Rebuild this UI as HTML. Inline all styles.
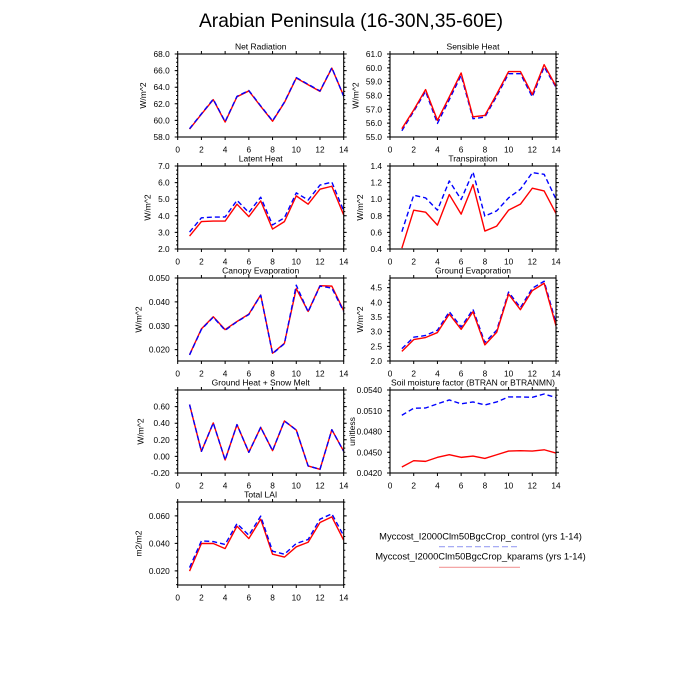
<!DOCTYPE html>
<html><head><meta charset="utf-8"><style>
html,body{margin:0;padding:0;background:#fff;}
svg{display:block;font-family:"Liberation Sans",Arial,sans-serif;}
.r{fill:none;stroke:#ff0000;stroke-width:1.4;vector-effect:non-scaling-stroke;stroke-linejoin:round;}
.b{fill:none;stroke:#0000ff;stroke-width:1.4;stroke-dasharray:5 3;vector-effect:non-scaling-stroke;stroke-linejoin:round;}
.fr{fill:none;stroke:#000;stroke-width:1.1;}
.M{fill:none;stroke:#000;stroke-width:3;}
.m{fill:none;stroke:#000;stroke-width:1.6;}
.xM{stroke-dasharray:1 22.714;}
.xm{stroke-dasharray:0 100;}
.tl{font-size:8.3px;fill:#000;}
.yl{text-anchor:end;}
.xl{text-anchor:middle;}
.pt{font-size:8.5px;text-anchor:middle;fill:#000;}
.al{font-size:8.5px;text-anchor:middle;fill:#000;}
</style></head><body>
<svg width="700" height="700" viewBox="0 0 700 700" xmlns="http://www.w3.org/2000/svg">
<rect width="700" height="700" fill="#fff"/>
<text x="351" y="27" font-size="19.2" text-anchor="middle" fill="#000">Arabian Peninsula (16-30N,35-60E)</text>

<!-- ===== Panel A: Net Radiation ===== -->
<g transform="translate(177.7,137) scale(11.857,-8.3) translate(0,-58)">
<polyline class="r" points="1,58.95 2,60.75 3,62.5 4,59.8 5,62.85 6,63.55 7,61.7 8,59.9 9,62.15 10,65.1 11,64.3 12,63.5 13,66.3 14,62.95"/>
<polyline class="b" points="1,59.0 2,60.8 3,62.55 4,59.85 5,62.9 6,63.6 7,61.75 8,59.95 9,62.2 10,65.15 11,64.35 12,63.55 13,66.35 14,62.9"/>
</g>
<rect class="fr" x="177.7" y="54" width="166" height="83"/>
<path class="M xM" d="M177.2 138.5H344.2"/><path class="M xM" d="M177.2 52.5H344.2"/>
<path class="M" style="stroke-dasharray:1 15.6" d="M176.2 137.5V53.5"/><path class="M" style="stroke-dasharray:1 15.6" d="M345.2 137.5V53.5"/>
<path class="m" style="stroke-dasharray:1 3.15" d="M176.9 137.5V53.5"/><path class="m" style="stroke-dasharray:1 3.15" d="M344.5 137.5V53.5"/>
<g class="tl yl"><text x="169.7" y="140">58.0</text><text x="169.7" y="123.4">60.0</text><text x="169.7" y="106.8">62.0</text><text x="169.7" y="90.2">64.0</text><text x="169.7" y="73.6">66.0</text><text x="169.7" y="57">68.0</text></g>
<g class="tl xl"><text x="177.7" y="152.5">0</text><text x="201.4" y="152.5">2</text><text x="225.1" y="152.5">4</text><text x="248.8" y="152.5">6</text><text x="272.6" y="152.5">8</text><text x="296.3" y="152.5">10</text><text x="320" y="152.5">12</text><text x="343.7" y="152.5">14</text></g>
<text class="pt" x="260.7" y="49.5">Net Radiation</text>
<text class="al" transform="translate(146,95.5) rotate(-90)">W/m^2</text>

<!-- ===== Panel B: Sensible Heat ===== -->
<g transform="translate(390,137) scale(11.857,-13.8333) translate(0,-55)">
<polyline class="b" points="1,55.45 2,56.85 3,58.3 4,55.98 5,57.7 6,59.46 7,56.32 8,56.44 9,57.95 10,59.58 11,59.58 12,57.9 13,60.06 14,58.6"/>
<polyline class="r" points="1,55.6 2,56.95 3,58.43 4,56.2 5,57.9 6,59.63 7,56.46 8,56.56 9,58.1 10,59.73 11,59.73 12,58.07 13,60.23 14,58.67"/>
</g>
<rect class="fr" x="390" y="54" width="166" height="83"/>
<path class="M xM" d="M389.5 138.5H556.5"/><path class="M xM" d="M389.5 52.5H556.5"/>
<path class="M" style="stroke-dasharray:1 12.8333" d="M388.5 137.5V53.5"/><path class="M" style="stroke-dasharray:1 12.8333" d="M557.5 137.5V53.5"/>
<path class="m" style="stroke-dasharray:1 2.4583" d="M389.2 137.5V53.5"/><path class="m" style="stroke-dasharray:1 2.4583" d="M556.8 137.5V53.5"/>
<g class="tl yl"><text x="382" y="140">55.0</text><text x="382" y="126.17">56.0</text><text x="382" y="112.33">57.0</text><text x="382" y="98.5">58.0</text><text x="382" y="84.67">59.0</text><text x="382" y="70.83">60.0</text><text x="382" y="57">61.0</text></g>
<g class="tl xl"><text x="390" y="152.5">0</text><text x="413.7" y="152.5">2</text><text x="437.4" y="152.5">4</text><text x="461.1" y="152.5">6</text><text x="484.9" y="152.5">8</text><text x="508.6" y="152.5">10</text><text x="532.3" y="152.5">12</text><text x="556" y="152.5">14</text></g>
<text class="pt" x="473" y="49.5">Sensible Heat</text>
<text class="al" transform="translate(358.3,95.5) rotate(-90)">W/m^2</text>

<!-- ===== Panel C: Latent Heat ===== -->
<g transform="translate(177.7,249) scale(11.857,-16.6) translate(0,-2)">
<polyline class="r" points="1,2.78 2,3.65 3,3.68 4,3.68 5,4.7 6,3.95 7,4.9 8,3.2 9,3.65 10,5.2 11,4.7 12,5.6 13,5.78 14,4.05"/>
<polyline class="b" points="1,3.02 2,3.88 3,3.92 4,3.93 5,4.93 6,4.2 7,5.12 8,3.45 9,3.88 10,5.38 11,4.95 12,5.85 13,6.03 14,4.3"/>
</g>
<rect class="fr" x="177.7" y="166" width="166" height="83"/>
<path class="M xM" d="M177.2 250.5H344.2"/><path class="M xM" d="M177.2 164.5H344.2"/>
<path class="M" style="stroke-dasharray:1 15.6" d="M176.2 249.5V165.5"/><path class="M" style="stroke-dasharray:1 15.6" d="M345.2 249.5V165.5"/>
<path class="m" style="stroke-dasharray:1 3.15" d="M176.9 249.5V165.5"/><path class="m" style="stroke-dasharray:1 3.15" d="M344.5 249.5V165.5"/>
<g class="tl yl"><text x="169.7" y="252">2.0</text><text x="169.7" y="235.4">3.0</text><text x="169.7" y="218.8">4.0</text><text x="169.7" y="202.2">5.0</text><text x="169.7" y="185.6">6.0</text><text x="169.7" y="169">7.0</text></g>
<g class="tl xl"><text x="177.7" y="264.5">0</text><text x="201.4" y="264.5">2</text><text x="225.1" y="264.5">4</text><text x="248.8" y="264.5">6</text><text x="272.6" y="264.5">8</text><text x="296.3" y="264.5">10</text><text x="320" y="264.5">12</text><text x="343.7" y="264.5">14</text></g>
<text class="pt" x="260.7" y="161.5">Latent Heat</text>
<text class="al" transform="translate(150.7,207.5) rotate(-90)">W/m^2</text>

<!-- ===== Panel D: Transpiration ===== -->
<g transform="translate(390,249) scale(11.857,-83) translate(0,-0.4)">
<polyline class="r" points="1,0.41 2,0.868 3,0.844 4,0.688 5,1.056 6,0.82 7,1.176 8,0.616 9,0.676 10,0.868 11,0.94 12,1.132 13,1.1 14,0.828"/>
<polyline class="b" points="1,0.608 2,1.048 3,1.016 4,0.868 5,1.22 6,0.996 7,1.328 8,0.796 9,0.86 10,1.016 11,1.12 12,1.32 13,1.3 14,1.0"/>
</g>
<rect class="fr" x="390" y="166" width="166" height="83"/>
<path class="M xM" d="M389.5 250.5H556.5"/><path class="M xM" d="M389.5 164.5H556.5"/>
<path class="M" style="stroke-dasharray:1 15.6" d="M388.5 249.5V165.5"/><path class="M" style="stroke-dasharray:1 15.6" d="M557.5 249.5V165.5"/>
<path class="m" style="stroke-dasharray:1 3.15" d="M389.2 249.5V165.5"/><path class="m" style="stroke-dasharray:1 3.15" d="M556.8 249.5V165.5"/>
<g class="tl yl"><text x="382" y="252">0.4</text><text x="382" y="235.4">0.6</text><text x="382" y="218.8">0.8</text><text x="382" y="202.2">1.0</text><text x="382" y="185.6">1.2</text><text x="382" y="169">1.4</text></g>
<g class="tl xl"><text x="390" y="264.5">0</text><text x="413.7" y="264.5">2</text><text x="437.4" y="264.5">4</text><text x="461.1" y="264.5">6</text><text x="484.9" y="264.5">8</text><text x="508.6" y="264.5">10</text><text x="532.3" y="264.5">12</text><text x="556" y="264.5">14</text></g>
<text class="pt" x="473" y="161.5">Transpiration</text>
<text class="al" transform="translate(363,207.5) rotate(-90)">W/m^2</text>

<!-- ===== Panel E: Canopy Evaporation ===== -->
<g transform="translate(177.7,361) scale(11.857,-2389.2) translate(0,-0.01526)">
<polyline class="r" points="1,0.0179 2,0.0287 3,0.0338 4,0.0284 5,0.0318 6,0.0349 7,0.0429 8,0.0185 9,0.0227 10,0.0456 11,0.0360 12,0.0468 13,0.0466 14,0.0363"/>
<polyline class="b" points="1,0.0178 2,0.0285 3,0.0336 4,0.0281 5,0.0317 6,0.0347 7,0.0428 8,0.0183 9,0.0225 10,0.0470 11,0.0358 12,0.0466 13,0.0458 14,0.0360"/>
</g>
<rect class="fr" x="177.7" y="278" width="166" height="83"/>
<path class="M xM" d="M177.2 362.5H344.2"/><path class="M xM" d="M177.2 276.5H344.2"/>
<path class="M" style="stroke-dasharray:1 22.89" d="M176.2 350.18V277.5"/><path class="M" style="stroke-dasharray:1 22.89" d="M345.2 350.18V277.5"/>
<path class="m" style="stroke-dasharray:1 4.9725" d="M176.9 356.15V277.5"/><path class="m" style="stroke-dasharray:1 4.9725" d="M344.5 356.15V277.5"/>
<g class="tl yl"><text x="169.7" y="352.68">0.020</text><text x="169.7" y="328.79">0.030</text><text x="169.7" y="304.9">0.040</text><text x="169.7" y="281">0.050</text></g>
<g class="tl xl"><text x="177.7" y="376.5">0</text><text x="201.4" y="376.5">2</text><text x="225.1" y="376.5">4</text><text x="248.8" y="376.5">6</text><text x="272.6" y="376.5">8</text><text x="296.3" y="376.5">10</text><text x="320" y="376.5">12</text><text x="343.7" y="376.5">14</text></g>
<text class="pt" x="260.7" y="273.5">Canopy Evaporation</text>
<text class="al" transform="translate(141.4,319.5) rotate(-90)">W/m^2</text>

<!-- ===== Panel F: Ground Evaporation ===== -->
<g transform="translate(390,361) scale(11.857,-29.329) translate(0,-2)">
<polyline class="b" points="1,2.42 2,2.81 3,2.87 4,3.05 5,3.68 6,3.16 7,3.76 8,2.63 9,3.05 10,4.35 11,3.82 12,4.48 13,4.72 14,3.3"/>
<polyline class="r" points="1,2.33 2,2.73 3,2.8 4,2.97 5,3.6 6,3.08 7,3.68 8,2.55 9,2.98 10,4.28 11,3.75 12,4.4 13,4.65 14,3.2"/>
</g>
<rect class="fr" x="390" y="278" width="166" height="83"/>
<path class="M xM" d="M389.5 362.5H556.5"/><path class="M xM" d="M389.5 276.5H556.5"/>
<path class="M" style="stroke-dasharray:1 13.667" d="M388.5 361.5V277.5"/><path class="M" style="stroke-dasharray:1 13.667" d="M557.5 361.5V277.5"/>
<path class="m" style="stroke-dasharray:1 2.667" d="M389.2 361.5V277.5"/><path class="m" style="stroke-dasharray:1 2.667" d="M556.8 361.5V277.5"/>
<g class="tl yl"><text x="382" y="364">2.0</text><text x="382" y="349.33">2.5</text><text x="382" y="334.67">3.0</text><text x="382" y="320">3.5</text><text x="382" y="305.33">4.0</text><text x="382" y="290.67">4.5</text></g>
<g class="tl xl"><text x="390" y="376.5">0</text><text x="413.7" y="376.5">2</text><text x="437.4" y="376.5">4</text><text x="461.1" y="376.5">6</text><text x="484.9" y="376.5">8</text><text x="508.6" y="376.5">10</text><text x="532.3" y="376.5">12</text><text x="556" y="376.5">14</text></g>
<text class="pt" x="473" y="273.5">Ground Evaporation</text>
<text class="al" transform="translate(363,319.5) rotate(-90)">W/m^2</text>

<!-- ===== Panel G: Ground Heat + Snow Melt ===== -->
<g transform="translate(177.7,473) scale(11.857,-83) translate(0,0.2)">
<polyline class="r" points="1,0.624 2,0.061 3,0.403 4,-0.043 5,0.383 6,0.049 7,0.35 8,0.069 9,0.427 10,0.318 11,-0.115 12,-0.156 13,0.322 14,0.061"/>
<polyline class="b" points="1,0.624 2,0.061 3,0.403 4,-0.043 5,0.383 6,0.049 7,0.35 8,0.069 9,0.427 10,0.318 11,-0.115 12,-0.156 13,0.322 14,0.061"/>
</g>
<rect class="fr" x="177.7" y="390" width="166" height="83"/>
<path class="M xM" d="M177.2 474.5H344.2"/><path class="M xM" d="M177.2 388.5H344.2"/>
<path class="M" style="stroke-dasharray:1 15.6" d="M176.2 473.5V389.5"/><path class="M" style="stroke-dasharray:1 15.6" d="M345.2 473.5V389.5"/>
<path class="m" style="stroke-dasharray:1 3.15" d="M176.9 473.5V389.5"/><path class="m" style="stroke-dasharray:1 3.15" d="M344.5 473.5V389.5"/>
<g class="tl yl"><text x="169.7" y="476">-0.20</text><text x="169.7" y="459.4">0.00</text><text x="169.7" y="442.8">0.20</text><text x="169.7" y="426.2">0.40</text><text x="169.7" y="409.6">0.60</text></g>
<g class="tl xl"><text x="177.7" y="488.5">0</text><text x="201.4" y="488.5">2</text><text x="225.1" y="488.5">4</text><text x="248.8" y="488.5">6</text><text x="272.6" y="488.5">8</text><text x="296.3" y="488.5">10</text><text x="320" y="488.5">12</text><text x="343.7" y="488.5">14</text></g>
<text class="pt" x="260.7" y="385.5">Ground Heat + Snow Melt</text>
<text class="al" transform="translate(143.3,431.5) rotate(-90)">W/m^2</text>

<!-- ===== Panel H: Soil moisture factor ===== -->
<g transform="translate(390,473) scale(11.857,-6916.67) translate(0,-0.042)">
<polyline class="r" points="1,0.04286 2,0.04378 3,0.04368 4,0.04426 5,0.04464 6,0.04426 7,0.04445 8,0.04411 9,0.04464 10,0.04517 11,0.04522 12,0.04517 13,0.04536 14,0.04488"/>
<polyline class="b" points="1,0.05035 2,0.05136 3,0.0514 4,0.0520 5,0.05256 6,0.0520 7,0.05227 8,0.05184 9,0.05227 10,0.0530 11,0.0530 12,0.05294 13,0.05342 14,0.0529"/>
</g>
<rect class="fr" x="390" y="390" width="166" height="83"/>
<path class="M xM" d="M389.5 474.5H556.5"/><path class="M xM" d="M389.5 388.5H556.5"/>
<path class="M" style="stroke-dasharray:1 19.75" d="M388.5 473.5V389.5"/><path class="M" style="stroke-dasharray:1 19.75" d="M557.5 473.5V389.5"/>
<path class="m" style="stroke-dasharray:1 4.1875" d="M389.2 473.5V389.5"/><path class="m" style="stroke-dasharray:1 4.1875" d="M556.8 473.5V389.5"/>
<g class="tl yl"><text x="382" y="476">0.0420</text><text x="382" y="455.25">0.0450</text><text x="382" y="434.5">0.0480</text><text x="382" y="413.75">0.0510</text><text x="382" y="393">0.0540</text></g>
<g class="tl xl"><text x="390" y="488.5">0</text><text x="413.7" y="488.5">2</text><text x="437.4" y="488.5">4</text><text x="461.1" y="488.5">6</text><text x="484.9" y="488.5">8</text><text x="508.6" y="488.5">10</text><text x="532.3" y="488.5">12</text><text x="556" y="488.5">14</text></g>
<text class="pt" x="473" y="385.5">Soil moisture factor (BTRAN or BTRANMN)</text>
<text class="al" transform="translate(355,431.5) rotate(-90)">unitless</text>

<!-- ===== Panel I: Total LAI ===== -->
<g transform="translate(177.7,585) scale(11.857,-1374.17) translate(0,-0.0097)">
<polyline class="r" points="1,0.0198 2,0.0399 3,0.0399 4,0.0362 5,0.0525 6,0.0435 7,0.0576 8,0.0321 9,0.0300 10,0.0375 11,0.0408 12,0.0552 13,0.0593 14,0.0423"/>
<polyline class="b" points="1,0.0224 2,0.0418 3,0.0413 4,0.0392 5,0.0544 6,0.0459 7,0.0598 8,0.0343 9,0.0321 10,0.0399 11,0.0428 12,0.0576 13,0.0615 14,0.0455"/>
</g>
<rect class="fr" x="177.7" y="502" width="166" height="83"/>
<path class="M xM" d="M177.2 586.5H344.2"/><path class="M xM" d="M177.2 500.5H344.2"/>
<path class="M" style="stroke-dasharray:1 26.484" d="M176.2 571.35V501.5"/><path class="M" style="stroke-dasharray:1 26.484" d="M345.2 571.35V501.5"/>
<path class="m" style="stroke-dasharray:1 5.871" d="M176.9 585.09V501.5"/><path class="m" style="stroke-dasharray:1 5.871" d="M344.5 585.09V501.5"/>
<g class="tl yl"><text x="169.7" y="573.85">0.020</text><text x="169.7" y="546.37">0.040</text><text x="169.7" y="518.88">0.060</text></g>
<g class="tl xl"><text x="177.7" y="600.5">0</text><text x="201.4" y="600.5">2</text><text x="225.1" y="600.5">4</text><text x="248.8" y="600.5">6</text><text x="272.6" y="600.5">8</text><text x="296.3" y="600.5">10</text><text x="320" y="600.5">12</text><text x="343.7" y="600.5">14</text></g>
<text class="pt" x="260.7" y="497.5">Total LAI</text>
<text class="al" transform="translate(141.4,543.5) rotate(-90)">m2/m2</text>

<!-- ===== Legend ===== -->
<text x="480.5" y="539.5" font-size="9.4" text-anchor="middle" fill="#000">Myccost_I2000Clm50BgcCrop_control (yrs 1-14)</text>
<line x1="439" y1="546.7" x2="520" y2="546.7" stroke="#9ba0f2" stroke-width="1.2" stroke-dasharray="6 3"/>
<text x="480.5" y="559.5" font-size="9.4" text-anchor="middle" fill="#000">Myccost_I2000Clm50BgcCrop_kparams (yrs 1-14)</text>
<line x1="439" y1="567.3" x2="520" y2="567.3" stroke="#f29a9a" stroke-width="1.2"/>
</svg>
</body></html>
